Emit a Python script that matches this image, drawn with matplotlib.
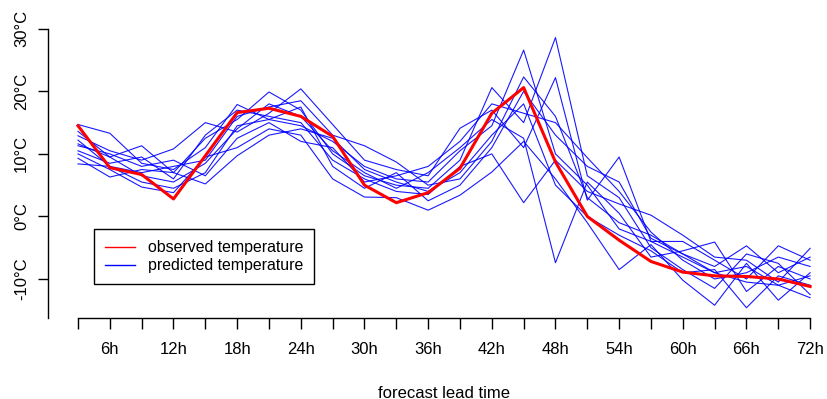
import matplotlib
matplotlib.use("Agg")
import matplotlib.pyplot as plt
from matplotlib.lines import Line2D

plt.rcParams['font.family'] = ['Liberation Sans', 'DejaVu Sans']

hours = [3, 6, 9, 12, 15, 18, 21, 24, 27, 30, 33, 36, 39, 42, 45, 48, 51, 54, 57, 60, 63, 66, 69, 72]
observed = [14.5, 7.8, 6.7, 2.8, 9.7, 16.6, 17.3, 16.0, 12.8, 5.0, 2.2, 3.8, 7.7, 16.5, 20.6, 8.7,
            0.0, -3.8, -7.2, -8.9, -9.5, -9.6, -10.0, -11.2]

m1 = [14.7, 13.3, 8.5, 7.5, 11.0, 17.9, 15.5, 14.5, 12.0, 8.0, 6.0, 5.5, 10.5, 14.5, 26.6, 10.0, 5.0, -2.0, -4.0, -6.5, -9.0, -8.0, -11.0, -9.5]
m2 = [13.6, 9.5, 11.3, 7.0, 12.5, 15.5, 19.9, 17.0, 10.0, 6.5, 5.0, 4.5, 9.0, 20.6, 15.0, 28.6, 6.5, 3.0, -5.0, -8.5, -11.5, -6.0, -7.5, -12.5]
m3 = [12.9, 10.5, 9.0, 10.8, 15.0, 13.5, 16.5, 20.4, 14.7, 9.0, 7.5, 6.5, 14.1, 17.0, 11.0, 22.2, 2.6, 9.5, -4.0, -4.0, -7.0, -10.0, -4.7, -7.0]
m4 = [12.2, 8.0, 7.0, 8.0, 9.0, 16.0, 17.5, 18.5, 13.0, 11.3, 8.7, 5.0, 6.0, 12.0, 22.3, 16.0, 3.0, -1.0, -3.0, -6.0, -8.0, -4.7, -9.0, -6.5]
m5 = [11.6, 9.5, 6.5, 5.5, 8.5, 14.0, 18.0, 16.0, 10.5, 7.0, 4.5, 7.0, 11.0, 15.5, 12.5, -7.4, 5.5, 0.5, -6.5, -5.5, -4.1, -12.0, -8.0, -10.0]
m6 = [11.3, 10.0, 8.0, 9.0, 6.5, 12.5, 15.0, 12.0, 11.0, 5.5, 6.5, 8.0, 12.0, 18.0, 16.5, 15.0, 9.4, 4.0, -2.5, -7.0, -10.0, -9.0, -6.5, -8.0]
m7 = [10.5, 8.5, 9.5, 6.0, 13.0, 17.0, 16.0, 15.0, 9.0, 6.0, 4.0, 3.5, 8.0, 10.0, 2.2, 9.0, 4.0, 2.0, 0.2, -3.0, -6.5, -7.0, -10.5, -5.1]
m8 = [10.0, 7.5, 4.7, 3.8, 9.5, 11.0, 14.0, 13.0, 6.0, 3.1, 3.0, 1.0, 3.4, 7.1, 12.0, 6.0, -1.0, -8.5, -4.5, -10.2, -14.2, -7.5, -13.4, -9.0]
m9 = [9.3, 6.3, 7.5, 7.0, 5.2, 9.7, 13.0, 14.0, 12.5, 7.5, 5.5, 4.0, 7.0, 13.0, 18.0, 5.0, 0.0, -3.0, -5.5, -9.0, -8.5, -14.6, -9.5, -11.0]
m10 = [8.4, 8.0, 5.5, 4.5, 7.0, 14.5, 15.5, 17.5, 8.0, 4.5, 7.0, 2.5, 5.0, 11.0, 20.0, 13.0, 8.0, 5.5, -3.5, -6.0, -9.0, -10.5, -11.0, -13.0]
members = [m1, m2, m3, m4, m5, m6, m7, m8, m9, m10]

y_ticks = [-10, 0, 10, 20, 30]
y_labels = ['-10°C', '0°C', '10°C', '20°C', '30°C']
x_labels = [f'{h}h' if h % 6 == 0 else '' for h in hours]

W, H = 827, 399
FS = 12.0
LFS = 11.4
fig = plt.figure(figsize=(W / 100, H / 100), dpi=100)
ax = fig.add_axes([48 / W, (H - 318) / H, 772 / W, 298 / H])

for m in members:
    ax.plot(hours, m, color='#0000FF', lw=0.8, alpha=0.9)
ax.plot(hours, observed, color='#FF0000', lw=2.2)

ax.set_xlim(0.173, 72.93)
ax.set_ylim(-16.24, 31.41)

for s in ['top', 'right']:
    ax.spines[s].set_visible(False)
ax.spines['left'].set_bounds(-16.24, 30)
ax.spines['bottom'].set_bounds(3, 72)
ax.spines['left'].set_linewidth(1.0)
ax.spines['bottom'].set_linewidth(1.0)

ax.set_xticks(hours)
ax.set_xticklabels(x_labels, fontsize=FS)
ax.set_yticks(y_ticks)
ax.set_yticklabels(y_labels, fontsize=FS, rotation=90, va='center')
ax.tick_params(axis='x', length=7.8, width=1.0, pad=9.5)
ax.tick_params(axis='y', length=7.2, width=1.0, pad=6.5)

fig.text(444 / W, (H - 393) / H, 'forecast lead time', fontsize=FS, ha='center', va='center')

handles = [Line2D([], [], color='#FF0000', lw=1.0), Line2D([], [], color='#0000FF', lw=1.0)]
leg = ax.legend(handles, ['observed temperature', 'predicted temperature'],
                loc='upper left', bbox_to_anchor=(93.7 / W, 1 - 229 / H),
                bbox_transform=fig.transFigure, borderaxespad=0, fontsize=LFS,
                fancybox=False, frameon=True, edgecolor='black', framealpha=1,
                handlelength=1.9, handletextpad=0.8, borderpad=0.7, labelspacing=0.2)
leg.get_frame().set_linewidth(1.0)

fig.savefig('out.png', dpi=100)
